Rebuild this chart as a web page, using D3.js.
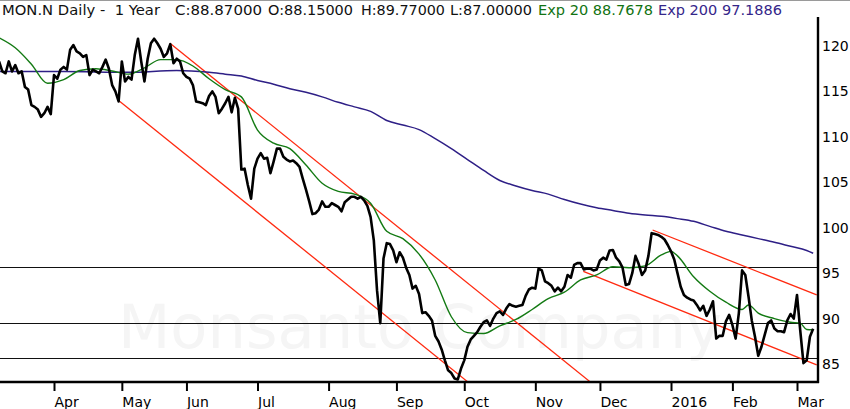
<!DOCTYPE html>
<html>
<head>
<meta charset="utf-8">
<script src="https://cdn.jsdelivr.net/npm/d3@7"></script>
<style>
  body { margin: 0; background: #fff; }
  svg { display: block; font-family: "DejaVu Sans", sans-serif; }
</style>
</head>
<body>
<div id="viz"></div>
<script>
const width = 850;
const height = 409;
const plot = {left: 0, right: 818, top: 17, bottom: 382};

// header texts
const ticker = 'MON.N Daily -  1 Year';
const ohlc = ['C:88.87000', 'O:88.15000', 'H:89.77000', 'L:87.00000'];
const ema20Label = 'Exp 20 88.7678';
const ema200Label = 'Exp 200 97.1886';
const watermark = 'Monsanto Company';

// x axis: trading-day index of the first session of each month
const monthLabels = ['Apr', 'May', 'Jun', 'Jul', 'Aug', 'Sep', 'Oct', 'Nov', 'Dec', '2016', 'Feb', 'Mar'];
const monthIndex = [17, 38, 58, 80, 102, 123, 144, 166, 186, 208, 227, 247];
const priceTicks = [85, 90, 95, 100, 105, 110, 115, 120];

// daily closes, one per trading day
const closes = [
  118.3, 117.2, 117.0, 118.3, 117.2, 117.9, 117.0, 117.2, 115.5, 115.2,
  113.5, 113.3, 113.0, 112.2, 112.6, 113.3, 112.5, 116.8, 116.4, 117.4,
  117.7, 117.4, 119.6, 120.1, 119.4, 119.2, 118.8, 119.0, 116.8, 117.4,
  117.2, 117.0, 117.7, 118.5, 117.5, 115.7, 115.0, 113.9, 118.3, 116.1,
  116.6, 116.3, 119.0, 120.8, 118.3, 116.1, 118.6, 120.3, 120.8, 120.3,
  119.7, 118.8, 119.2, 120.2, 118.1, 118.6, 118.3, 117.0, 116.6, 116.4,
  115.7, 113.9, 113.8, 113.7, 113.5, 114.5, 115.0, 114.4, 112.6, 113.1,
  113.7, 114.4, 112.7, 114.3, 113.1, 106.4, 106.5, 104.7, 103.2, 106.5,
  107.6, 108.2, 107.6, 107.7, 106.0, 107.3, 108.7, 108.7, 107.8, 107.5,
  107.3, 107.4, 107.1, 106.7, 105.4, 104.2, 102.9, 101.5, 101.6, 102.0,
  102.9, 102.3, 102.3, 102.7, 102.5, 102.3, 101.8, 102.8, 103.1, 103.4,
  103.4, 103.2, 103.4, 103.0, 102.4, 101.2, 98.6, 93.1, 89.5, 96.6,
  98.3, 98.2, 97.5, 96.2, 97.3, 96.7, 95.6, 94.8, 93.3, 93.6,
  92.7, 90.6, 90.7, 90.3, 89.8, 88.1, 87.5, 86.6, 85.4, 84.3,
  84.0, 83.4, 83.3, 84.5, 85.4, 86.9, 87.7, 88.1, 88.5, 89.1,
  89.6, 89.8, 89.2, 90.0, 90.6, 90.8, 90.4, 91.1, 91.6, 91.4,
  91.3, 91.4, 91.5, 92.5, 93.2, 93.4, 93.3, 95.5, 95.3, 94.1,
  93.9, 93.6, 93.0, 93.4, 93.0, 93.5, 94.8, 94.5, 95.9, 96.1,
  96.1, 95.4, 95.5, 95.5, 95.3, 95.4, 96.4, 96.7, 96.5, 97.5,
  97.55, 96.7, 96.3, 95.6, 93.7, 93.8, 95.0, 96.9, 96.0, 94.8,
  95.3, 96.9, 99.4, 99.3, 99.2, 99.0, 98.7, 98.1, 97.4, 96.5,
  95.0, 93.5, 92.6, 92.3, 92.1, 92.0, 91.5, 90.9, 91.4, 90.3,
  91.0, 91.9, 87.8, 88.1, 88.1, 89.7, 90.4, 89.3, 87.8, 90.6,
  95.3, 94.8, 92.4, 89.8, 88.0, 85.9, 86.9, 88.2, 89.5, 89.8,
  88.9, 88.6, 88.6, 88.5, 89.8, 90.5, 90.0, 92.6, 88.7, 85.1,
  85.4, 88.0, 88.87
];

const ema20Index = [0, 5, 10, 15, 20, 25, 30, 35, 40, 45, 50, 55, 60, 65, 70, 75, 80, 85, 90, 95,
  100, 105, 110, 115, 120, 125, 130, 135, 140, 145, 150, 155, 160, 165, 170, 175, 180, 185, 190, 195,
  200, 205, 208, 210, 215, 220, 225, 230, 232, 235, 240, 245, 248, 250, 252];
const ema20 = [120.9, 119.8, 118.0, 115.9, 116.3, 117.3, 117.5, 117.25, 116.9, 117.6, 118.5, 118.5, 117.8, 116.4, 115.2, 114.4, 110.75, 109.3, 108.7, 106.9,
  104.9, 104.0, 103.7, 102.7, 99.6, 98.8, 97.1, 94.25, 90.2, 88.45, 88.35, 89.2, 89.9, 91.0, 92.2, 92.9, 94.25, 94.8, 95.7, 95.6,
  95.8, 97.0, 97.4, 96.9, 94.6, 93.0, 91.8, 91.0, 91.5, 90.6, 90.0, 89.6, 89.5, 88.8, 88.77];

const ema200Index = [0, 20, 40, 55, 65, 70, 75, 80, 85, 90, 95, 100, 105, 110, 115, 120, 125, 130, 135, 140,
  145, 150, 155, 160, 165, 170, 175, 180, 185, 190, 195, 200, 205, 210, 215, 220, 225, 230, 235, 240, 245, 250, 252];
const ema200 = [117.2, 117.2, 117.1, 117.3, 117.1, 116.9, 116.7, 116.2, 115.8, 115.3, 114.9, 114.4, 113.8, 113.3, 112.8, 111.8, 111.3, 110.8, 109.8, 108.7,
  107.5, 106.3, 105.2, 104.6, 104.1, 103.7, 103.1, 102.6, 102.2, 101.9, 101.6, 101.4, 101.25, 101.0, 100.7, 100.15, 99.6, 99.2, 98.8, 98.4, 97.95, 97.5, 97.19];

// horizontal levels and channel lines [session, price]
const levels = [95.7, 89.5, 85.65];
const trendLines = [
  [[37.2, 113.95], [145.2, 83.0]],
  [[52.9, 120.3], [183.1, 83.0]],
  [[180.85, 95.2], [253.1, 84.9]],
  [[202.3, 99.75], [253.1, 92.6]]
];

const x = d3.scaleLinear()
  .domain([monthIndex[0], monthIndex[monthIndex.length - 1]])
  .range([54, 797]);

const y = d3.scaleLinear()
  .domain([85, 120])
  .range([364, 46]);

const svg = d3.select('#viz')
  .append('svg')
    .attr('width', width)
    .attr('height', height)
    .attr('viewBox', [0, 0, width, height]);

svg.append('defs')
  .append('clipPath')
    .attr('id', 'plot-clip')
  .append('rect')
    .attr('x', plot.left)
    .attr('y', plot.top)
    .attr('width', plot.right - plot.left)
    .attr('height', plot.bottom - plot.top);

// thin frame line at the very top
svg.append('line')
  .attr('x1', 0).attr('x2', width)
  .attr('y1', 0.5).attr('y2', 0.5)
  .attr('stroke', '#9a9a9a')
  .attr('stroke-width', 1);

// header
const header = svg.append('text')
  .attr('y', 15)
  .style('font-size', '14.5px')
  .attr('xml:space', 'preserve');
const headerX = [2, 175, 268, 361, 450, 538, 658];
const headerW = [158, 87, 85, 84, 82, 115, 124];
const headerColor = ['#111', '#111', '#111', '#111', '#111', '#127312', '#35268a'];
[ticker, ...ohlc, ema20Label, ema200Label].forEach((t, i) => {
  header.append('tspan')
    .attr('x', headerX[i])
    .attr('textLength', headerW[i])
    .attr('lengthAdjust', 'spacingAndGlyphs')
    .attr('fill', headerColor[i])
    .text(t);
});

const g = svg.append('g').attr('clip-path', 'url(#plot-clip)');

// watermark
g.append('text')
  .attr('x', 118)
  .attr('y', 348)
  .attr('textLength', 604)
  .attr('lengthAdjust', 'spacingAndGlyphs')
  .style('font-size', '60px')
  .attr('fill', '#f5f5f5')
  .text(watermark);

// horizontal levels
g.selectAll('line.level')
  .data(levels)
  .join('line')
    .attr('class', 'level')
    .attr('x1', plot.left).attr('x2', plot.right)
    .attr('y1', d => Math.round(y(d)) + 0.5).attr('y2', d => Math.round(y(d)) + 0.5)
    .attr('stroke', '#111')
    .attr('stroke-width', 1.2);

// channel lines
g.selectAll('line.trend')
  .data(trendLines)
  .join('line')
    .attr('class', 'trend')
    .attr('x1', d => x(d[0][0])).attr('y1', d => y(d[0][1]))
    .attr('x2', d => x(d[1][0])).attr('y2', d => y(d[1][1]))
    .attr('stroke', '#ff2a10')
    .attr('stroke-width', 1.3);

// EMA 200
g.append('path')
  .datum(ema200Index.map((d, i) => [d, ema200[i]]))
  .attr('fill', 'none')
  .attr('stroke', '#2e1f86')
  .attr('stroke-width', 1.5)
  .attr('d', d3.line().x(d => x(d[0])).y(d => y(d[1])).curve(d3.curveMonotoneX));

// EMA 20
g.append('path')
  .datum(ema20Index.map((d, i) => [d, ema20[i]]))
  .attr('fill', 'none')
  .attr('stroke', '#137a13')
  .attr('stroke-width', 1.4)
  .attr('d', d3.line().x(d => x(d[0])).y(d => y(d[1])).curve(d3.curveMonotoneX));

// closing prices
g.append('path')
  .datum(closes)
  .attr('fill', 'none')
  .attr('stroke', '#000')
  .attr('stroke-width', 2.6)
  .attr('stroke-linejoin', 'round')
  .attr('d', d3.line().x((d, i) => x(i)).y(d => y(d)));

// bottom axis
const axisBottom = d3.axisBottom(x)
  .tickValues(monthIndex)
  .tickFormat((d, i) => monthLabels[i])
  .tickSize(9)
  .tickPadding(6);
const xAxis = svg.append('g')
  .attr('transform', `translate(0,${plot.bottom})`)
  .style('font-family', '"DejaVu Sans", sans-serif')
  .style('font-size', '14px')
  .call(axisBottom);
xAxis.select('.domain').remove();
xAxis.selectAll('.tick line').attr('stroke', '#000').attr('stroke-width', 2);
xAxis.selectAll('.tick text').attr('text-anchor', 'start').attr('x', 0).attr('fill', '#000');

svg.append('line')
  .attr('x1', 0).attr('x2', plot.right + 1)
  .attr('y1', plot.bottom).attr('y2', plot.bottom)
  .attr('stroke', '#000').attr('stroke-width', 2.4);

// right axis
const axisRight = d3.axisRight(y)
  .tickValues(priceTicks)
  .tickSize(0)
  .tickPadding(4);
const yAxis = svg.append('g')
  .attr('transform', `translate(${plot.right},0)`)
  .style('font-family', '"DejaVu Sans", sans-serif')
  .style('font-size', '14px')
  .call(axisRight);
yAxis.select('.domain').remove();
yAxis.selectAll('.tick text').attr('fill', '#000');

svg.append('line')
  .attr('x1', plot.right).attr('x2', plot.right)
  .attr('y1', plot.top).attr('y2', plot.bottom + 1)
  .attr('stroke', '#000').attr('stroke-width', 2.4);
</script>
</body>
</html>
